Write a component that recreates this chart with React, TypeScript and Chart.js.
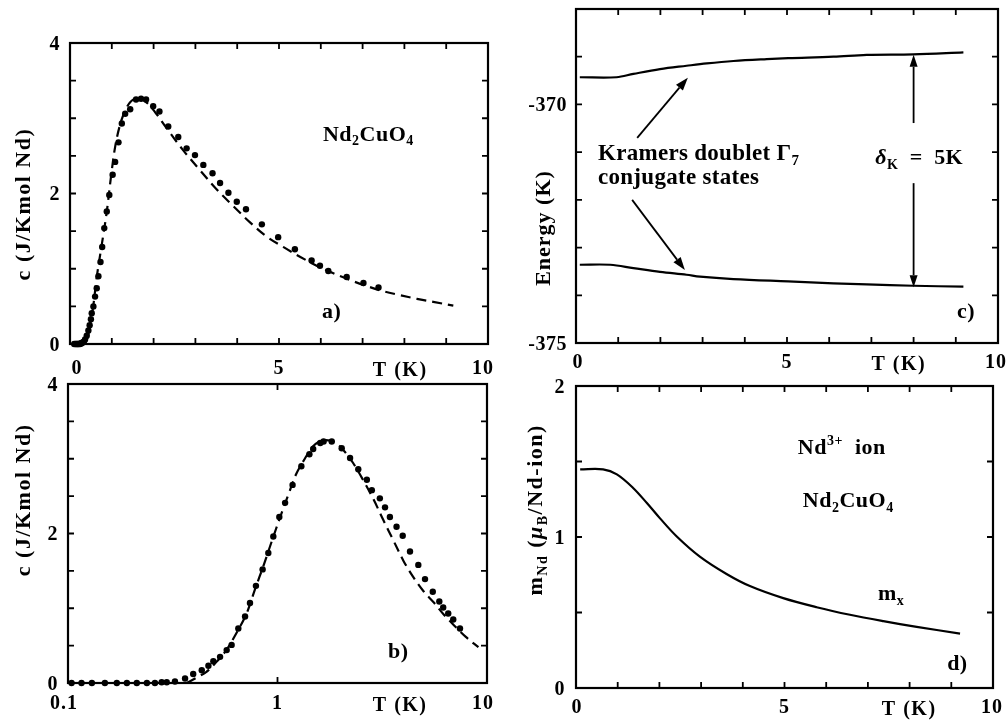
import React, { useEffect, useRef } from 'react';
import { Chart, registerables } from 'chart.js';
Chart.register(...registerables);

const W = 1008;
const H = 723;
const FONT = '"Liberation Serif", "Times New Roman", "DejaVu Serif", serif';

// ---------- Panel a: specific heat, linear T ----------
const dotsA: [number, number][] = [
  [0.10, 0], [0.13, 0], [0.15, 0], [0.17, 0], [0.19, 0], [0.21, 0], [0.24, 0], [0.26, 0.01], [0.28, 0.01],
  [0.30, 0.02], [0.33, 0.03], [0.36, 0.06], [0.40, 0.11], [0.44, 0.18], [0.47, 0.25], [0.50, 0.33],
  [0.52, 0.41], [0.56, 0.50], [0.60, 0.63], [0.64, 0.74], [0.68, 0.90], [0.73, 1.09], [0.77, 1.29],
  [0.82, 1.54], [0.88, 1.76], [0.94, 1.98], [1.02, 2.25], [1.08, 2.42], [1.16, 2.68], [1.24, 2.93],
  [1.32, 3.06], [1.44, 3.12], [1.58, 3.25], [1.70, 3.26], [1.82, 3.25], [1.99, 3.16], [2.14, 3.09],
  [2.35, 2.89], [2.59, 2.75], [2.79, 2.60], [2.99, 2.51], [3.19, 2.38], [3.41, 2.27], [3.59, 2.14],
  [3.79, 2.01], [3.99, 1.89], [4.21, 1.79], [4.59, 1.59], [4.98, 1.42], [5.38, 1.26], [5.78, 1.11],
  [5.98, 1.04], [6.18, 0.97], [6.62, 0.89], [7.02, 0.81], [7.38, 0.75],
];
const fitA: [number, number][] = [
  [0, 0], [0.25, 0], [0.38, 0.03], [0.48, 0.25], [0.56, 0.52], [0.64, 0.89], [0.76, 1.32], [0.88, 1.76],
  [0.98, 2.22], [1.08, 2.62], [1.2, 2.92], [1.32, 3.10], [1.45, 3.22], [1.63, 3.27], [1.85, 3.20],
  [2.05, 3.07], [2.31, 2.87], [2.7, 2.58], [3.11, 2.31], [3.5, 2.06], [3.91, 1.83], [4.3, 1.62],
  [4.70, 1.43], [5.1, 1.29], [5.50, 1.16], [5.9, 1.04], [6.30, 0.94], [6.7, 0.85], [7.10, 0.77],
  [7.5, 0.70], [7.89, 0.65], [8.3, 0.60], [8.69, 0.56], [9.17, 0.51],
];

// ---------- Panel b: specific heat, log T ----------
const dotsB: [number, number][] = [
  [0.104, 0], [0.116, 0], [0.130, 0], [0.150, 0], [0.171, 0], [0.191, 0], [0.213, 0], [0.238, 0],
  [0.260, 0], [0.280, 0.01], [0.296, 0.01], [0.324, 0.02], [0.362, 0.06], [0.396, 0.12], [0.435, 0.17],
  [0.468, 0.23], [0.494, 0.29], [0.532, 0.35], [0.572, 0.44], [0.604, 0.51], [0.650, 0.73], [0.700, 0.89],
  [0.739, 1.07], [0.789, 1.30], [0.849, 1.52], [0.904, 1.74], [0.955, 1.96], [1.02, 2.22], [1.087, 2.41],
  [1.18, 2.65], [1.30, 2.90], [1.42, 3.06], [1.48, 3.13], [1.60, 3.21], [1.66, 3.23], [1.815, 3.23],
  [2.025, 3.14], [2.22, 3.01], [2.43, 2.86], [2.67, 2.72], [2.82, 2.58], [3.08, 2.47], [3.26, 2.35],
  [3.44, 2.22], [3.70, 2.09], [3.96, 1.97], [4.29, 1.76], [4.70, 1.58], [5.06, 1.39], [5.51, 1.22],
  [5.92, 1.09], [6.18, 1.01], [6.53, 0.93], [6.90, 0.85], [7.43, 0.73],
];
const fitB: [number, number][] = [
  [0.369, 0], [0.41, 0.07], [0.458, 0.15], [0.51, 0.28], [0.57, 0.44], [0.64, 0.68], [0.712, 0.93],
  [0.78, 1.25], [0.855, 1.56], [0.94, 1.90], [1.03, 2.22], [1.13, 2.53], [1.23, 2.80], [1.35, 3.00],
  [1.47, 3.16], [1.58, 3.23], [1.69, 3.25], [1.80, 3.24], [1.91, 3.21], [2.10, 3.09], [2.30, 2.94],
  [2.58, 2.70], [2.88, 2.45], [3.20, 2.18], [3.57, 1.91], [4.0, 1.63], [4.49, 1.40], [5.0, 1.22],
  [5.56, 1.08], [6.2, 0.92], [6.97, 0.77], [7.9, 0.62], [9.1, 0.48],
];

// ---------- Panel c: Kramers doublet energies ----------
const upperLevel: [number, number][] = [
  [0.09, -369.43], [0.96, -369.43], [1.36, -369.36], [1.99, -369.26], [2.62, -369.19], [3.10, -369.14],
  [3.73, -369.09], [4.52, -369.05], [5.03, -369.03], [6.10, -369.00], [6.89, -368.96], [7.99, -368.95],
  [9.18, -368.91],
];
const lowerLevel: [number, number][] = [
  [0.09, -373.36], [0.81, -373.36], [1.36, -373.43], [1.99, -373.51], [2.62, -373.57], [2.94, -373.61],
  [3.73, -373.66], [5.03, -373.71], [6.10, -373.75], [6.89, -373.77], [7.99, -373.80], [9.18, -373.82],
];

// ---------- Panel d: Nd moment ----------
const momentX: [number, number][] = [
  [0.10, 1.448], [0.65, 1.448], [0.98, 1.415], [1.37, 1.325], [1.70, 1.225], [2.01, 1.125], [2.41, 1.005],
  [2.97, 0.87], [3.61, 0.755], [4.17, 0.675], [4.97, 0.595], [5.77, 0.535], [6.57, 0.485], [7.37, 0.443],
  [8.17, 0.405], [9.21, 0.36],
];

// ---------- ticks ----------
const linTickMarks = [1, 2, 3, 4, 5, 6, 7, 8, 9];
const logTickMarks = [1];
const heatYMarks = [0.5, 1, 1.5, 2, 2.5, 3, 3.5];
const energyYMarks = [-374, -373, -372, -371, -370, -369];
const momentYMarks = [0.5, 1, 1.5];

const linXLabelVals = [0, 5, 10];
const linXLabels = ['0', '5', '10'];
const logXLabelVals = [0.1, 1, 10];
const logXLabels = ['0.1', '1', '10'];
const heatYLabelVals = [0, 2, 4];
const heatYLabels = ['0', '2', '4'];
const energyYLabelVals = [-375, -370];
const energyYLabels = ['-375', '-370'];
const momentYLabelVals = [0, 1, 2];
const momentYLabels = ['0', '1', '2'];

type Seg = { t: string; s?: 'b' | 'p'; i?: boolean };

function fontFor(seg: Seg, size: number) {
  const sz = seg.s ? Math.round(size * 0.64) : size;
  return `${seg.i ? 'italic ' : ''}bold ${sz}px ${FONT}`;
}

function drawRich(ctx: any, segs: Seg[], x: number, y: number, size: number, align = 'left', ls = 0) {
  ctx.letterSpacing = ls + 'px';
  const ws: number[] = [];
  let w = 0;
  for (const s of segs) {
    ctx.font = fontFor(s, size);
    const m = ctx.measureText(s.t).width;
    ws.push(m);
    w += m;
  }
  let cx = align === 'left' ? x : align === 'center' ? x - w / 2 : x - w;
  const base = y + size * 0.33;
  ctx.textAlign = 'left';
  ctx.textBaseline = 'alphabetic';
  segs.forEach((s, i) => {
    ctx.font = fontFor(s, size);
    const dy = s.s === 'b' ? size * 0.22 : s.s === 'p' ? -size * 0.38 : 0;
    ctx.fillText(s.t, cx, base + dy);
    cx += ws[i];
  });
  ctx.letterSpacing = '0px';
}

function drawRotated(ctx: any, segs: Seg[], x: number, y: number, size: number, ls = 0) {
  ctx.save();
  ctx.translate(x, y);
  ctx.rotate(-Math.PI / 2);
  drawRich(ctx, segs, 0, 0, size, 'center', ls);
  ctx.restore();
}

function arrow(ctx: any, x1: number, y1: number, x2: number, y2: number, head = 13, hw = 4.5) {
  const ang = Math.atan2(y2 - y1, x2 - x1);
  const bx = x2 - head * Math.cos(ang);
  const by = y2 - head * Math.sin(ang);
  ctx.beginPath();
  ctx.moveTo(x1, y1);
  ctx.lineTo(bx, by);
  ctx.stroke();
  ctx.beginPath();
  ctx.moveTo(x2, y2);
  ctx.lineTo(bx + hw * Math.sin(ang), by - hw * Math.cos(ang));
  ctx.lineTo(bx - hw * Math.sin(ang), by + hw * Math.cos(ang));
  ctx.closePath();
  ctx.fill();
}

const toXY = (arr: [number, number][]) => arr.map(([x, y]) => ({ x, y }));

const dotsDs = (arr: [number, number][]) => ({
  data: toXY(arr),
  showLine: false,
  pointRadius: 3.2,
  pointBackgroundColor: '#000',
  pointBorderWidth: 0,
  clip: false as any,
});
const lineDs = (arr: [number, number][], dash: number[] = []) => ({
  data: toXY(arr),
  showLine: true,
  borderColor: '#000',
  borderWidth: 2.2,
  borderDash: dash,
  pointRadius: 0,
  tension: 0.35,
});

interface PanelCfg {
  id: string;
  pad: { left: number; top: number; right: number; bottom: number };
  xType: 'linear' | 'logarithmic';
  xMin: number; xMax: number; yMin: number; yMax: number;
  datasets: any[];
  xMarks: number[]; yMarks: number[];
  xLabelVals: number[]; xLabels: string[]; tkVal: number;
  xLabelDy: number; firstDx: number; lastDx: number;
  yLabelVals: number[]; yLabels: string[]; yLabelDx: number;
  deco: (ctx: any, x: any, y: any) => void;
}

function decoPlugin(cfg: PanelCfg) {
  return {
    id: 'deco-' + cfg.id,
    afterDatasetsDraw(chart: any) {
      const { ctx, chartArea: a } = chart;
      const x = chart.scales.x;
      const y = chart.scales.y;
      ctx.save();
      ctx.fillStyle = '#000';
      ctx.strokeStyle = '#000';
      ctx.lineWidth = 2.2;
      ctx.strokeRect(a.left, a.top, a.right - a.left, a.bottom - a.top);
      ctx.lineWidth = 1.8;
      ctx.beginPath();
      for (const v of cfg.xMarks) {
        const px = x.getPixelForValue(v);
        ctx.moveTo(px, a.bottom); ctx.lineTo(px, a.bottom - 6);
        ctx.moveTo(px, a.top); ctx.lineTo(px, a.top + 6);
      }
      for (const v of cfg.yMarks) {
        const py = y.getPixelForValue(v);
        ctx.moveTo(a.left, py); ctx.lineTo(a.left + 6, py);
        ctx.moveTo(a.right, py); ctx.lineTo(a.right - 6, py);
      }
      ctx.stroke();
      // x tick labels
      const ly = a.bottom + cfg.xLabelDy;
      cfg.xLabelVals.forEach((v, i) => {
        let px = x.getPixelForValue(v);
        if (i === 0) px += cfg.firstDx;
        if (i === cfg.xLabelVals.length - 1) px += cfg.lastDx;
        drawRich(ctx, [{ t: cfg.xLabels[i] }], px, ly, 20, 'center', 1);
      });
      drawRich(ctx, [{ t: 'T (K)' }], x.getPixelForValue(cfg.tkVal), ly + 2, 20, 'center', 1.5);
      // y tick labels
      cfg.yLabelVals.forEach((v, i) => {
        drawRich(ctx, [{ t: cfg.yLabels[i] }], a.left - cfg.yLabelDx, y.getPixelForValue(v), 20, 'right', 0.5);
      });
      cfg.deco(ctx, x, y);
      ctx.restore();
    },
  };
}

const heatLabel: Seg[] = [{ t: 'c (J/Kmol Nd)' }];
const ndCuO: Seg[] = [{ t: 'Nd' }, { t: '2', s: 'b' }, { t: 'CuO' }, { t: '4', s: 'b' }];

const panels: PanelCfg[] = [
  {
    id: 'a',
    pad: { left: 70, top: 43, right: W - 488, bottom: H - 344 },
    xType: 'linear', xMin: 0, xMax: 10, yMin: 0, yMax: 4,
    datasets: [dotsDs(dotsA), lineDs(fitA, [10, 6])],
    xMarks: linTickMarks, yMarks: heatYMarks,
    xLabelVals: linXLabelVals, xLabels: linXLabels, tkVal: 7.9,
    xLabelDy: 23, firstDx: 7, lastDx: -5,
    yLabelVals: heatYLabelVals, yLabels: heatYLabels, yLabelDx: 10,
    deco: (ctx, x, y) => {
      drawRotated(ctx, heatLabel, 23, y.getPixelForValue(1.86), 22, 1.5);
      drawRich(ctx, ndCuO, x.getPixelForValue(6.05), y.getPixelForValue(2.8), 22, 'left', 0.5);
      drawRich(ctx, [{ t: 'a)' }], x.getPixelForValue(6.03), y.getPixelForValue(0.44), 22, 'left', 0.5);
    },
  },
  {
    id: 'b',
    pad: { left: 68, top: 384, right: W - 487, bottom: H - 683 },
    xType: 'logarithmic', xMin: 0.1, xMax: 10, yMin: 0, yMax: 4,
    datasets: [dotsDs(dotsB), lineDs(fitB, [10, 6])],
    xMarks: logTickMarks, yMarks: heatYMarks,
    xLabelVals: logXLabelVals, xLabels: logXLabels, tkVal: 3.85,
    xLabelDy: 19, firstDx: -4, lastDx: -4,
    yLabelVals: heatYLabelVals, yLabels: heatYLabels, yLabelDx: 10,
    deco: (ctx, x, y) => {
      drawRotated(ctx, heatLabel, 23, y.getPixelForValue(2.45), 22, 1.5);
      drawRich(ctx, [{ t: 'b)' }], x.getPixelForValue(3.37), y.getPixelForValue(0.43), 22, 'left', 0.5);
    },
  },
  {
    id: 'c',
    pad: { left: 576, top: 9, right: W - 998, bottom: H - 343 },
    xType: 'linear', xMin: 0, xMax: 10, yMin: -375, yMax: -368,
    datasets: [lineDs(upperLevel), lineDs(lowerLevel)],
    xMarks: linTickMarks, yMarks: energyYMarks,
    xLabelVals: linXLabelVals, xLabels: linXLabels, tkVal: 7.65,
    xLabelDy: 18, firstDx: 2, lastDx: -2,
    yLabelVals: energyYLabelVals, yLabels: energyYLabels, yLabelDx: 9,
    deco: (ctx, x, y) => {
      drawRotated(ctx, [{ t: 'Energy (K)' }], 543, y.getPixelForValue(-372.59), 22, 1);
      drawRich(ctx, [{ t: 'Kramers doublet Γ' }, { t: '7', s: 'b' }], x.getPixelForValue(0.52), y.getPixelForValue(-371.0), 23, 'left', 0.3);
      drawRich(ctx, [{ t: 'conjugate states' }], x.getPixelForValue(0.52), y.getPixelForValue(-371.5), 23, 'left', 0.3);
      drawRich(ctx, [{ t: 'δ', i: true }, { t: 'K', s: 'b' }, { t: '  =  5K' }], x.getPixelForValue(8.13), y.getPixelForValue(-371.1), 22, 'center', 0.3);
      drawRich(ctx, [{ t: 'c)' }], x.getPixelForValue(9.03), y.getPixelForValue(-374.33), 22, 'left', 0.5);
      ctx.lineWidth = 1.8;
      const P = (vx: number, vy: number) => [x.getPixelForValue(vx), y.getPixelForValue(vy)];
      const [a1x, a1y] = P(1.45, -370.7); const [h1x, h1y] = P(2.65, -369.44);
      arrow(ctx, a1x, a1y, h1x, h1y);
      const [a2x, a2y] = P(1.33, -372.0); const [h2x, h2y] = P(2.58, -373.47);
      arrow(ctx, a2x, a2y, h2x, h2y);
      const [v1x, v1y] = P(8.0, -370.39); const [t1x, t1y] = P(8.0, -368.96);
      arrow(ctx, v1x, v1y, t1x, t1y, 12, 4);
      const [v2x, v2y] = P(8.0, -371.65); const [t2x, t2y] = P(8.0, -373.83);
      arrow(ctx, v2x, v2y, t2x, t2y, 12, 4);
    },
  },
  {
    id: 'd',
    pad: { left: 576, top: 386, right: W - 993, bottom: H - 688 },
    xType: 'linear', xMin: 0, xMax: 10, yMin: 0, yMax: 2,
    datasets: [lineDs(momentX)],
    xMarks: linTickMarks, yMarks: momentYMarks,
    xLabelVals: linXLabelVals, xLabels: linXLabels, tkVal: 7.99,
    xLabelDy: 18, firstDx: 1, lastDx: -1,
    yLabelVals: momentYLabelVals, yLabels: momentYLabels, yLabelDx: 11,
    deco: (ctx, x, y) => {
      drawRotated(ctx, [{ t: 'm' }, { t: 'Nd', s: 'b' }, { t: ' (' }, { t: 'μ', i: true }, { t: 'B', s: 'b' }, { t: '/Nd-ion)' }], 535, y.getPixelForValue(1.18), 22, 1.5);
      drawRich(ctx, [{ t: 'Nd' }, { t: '3+', s: 'p' }, { t: '  ion' }], x.getPixelForValue(5.32), y.getPixelForValue(1.6), 22, 'left', 0.5);
      drawRich(ctx, ndCuO, x.getPixelForValue(5.44), y.getPixelForValue(1.245), 22, 'left', 0.5);
      drawRich(ctx, [{ t: 'm' }, { t: 'x', s: 'b' }], x.getPixelForValue(7.24), y.getPixelForValue(0.63), 22, 'left', 0.5);
      drawRich(ctx, [{ t: 'd)' }], x.getPixelForValue(8.9), y.getPixelForValue(0.166), 22, 'left', 0.5);
    },
  },
];

function PanelChart({ cfg }: { cfg: PanelCfg }) {
  const ref = useRef<HTMLCanvasElement>(null);
  useEffect(() => {
    if (!ref.current) return;
    const chart = new Chart(ref.current, {
      type: 'scatter',
      data: { datasets: cfg.datasets },
      options: {
        animation: false,
        responsive: false,
        devicePixelRatio: 1,
        events: [],
        layout: { padding: cfg.pad },
        plugins: { legend: { display: false }, tooltip: { enabled: false }, title: { display: false } },
        scales: {
          x: { type: cfg.xType, min: cfg.xMin, max: cfg.xMax, display: false },
          y: { type: 'linear', min: cfg.yMin, max: cfg.yMax, display: false },
        },
      } as any,
      plugins: [decoPlugin(cfg)],
    });
    return () => chart.destroy();
  }, []);
  return (
    <canvas
      ref={ref}
      width={W}
      height={H}
      style={{ position: 'absolute', left: 0, top: 0, width: W, height: H }}
    />
  );
}

export default function App() {
  return (
    <div style={{ position: 'fixed', left: 0, top: 0, width: W, height: H, background: '#fff', overflow: 'hidden' }}>
      {panels.map((p) => (
        <PanelChart key={p.id} cfg={p} />
      ))}
    </div>
  );
}
